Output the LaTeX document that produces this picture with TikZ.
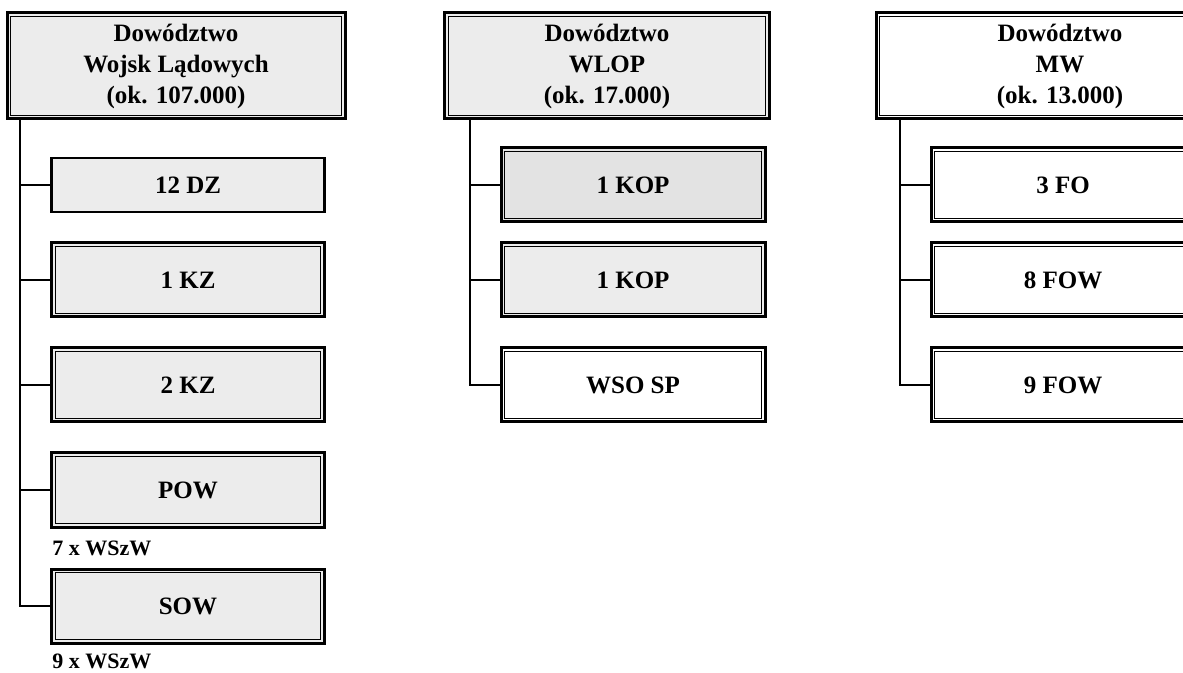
\documentclass[tikz,border=0pt]{standalone}
\usepackage{fontspec}
\setmainfont{Liberation Serif}
\usetikzlibrary{positioning}
\definecolor{boxgray}{gray}{0.925}
\definecolor{boxgrayd}{gray}{0.89}
\tikzset{
  unit/.style={draw, line width=1.5pt, minimum width=132pt, minimum height=37pt,
    font=\bfseries\fontsize{12.5}{15.5}\selectfont},
  head/.style={unit, align=center, minimum height=53pt},
  note/.style={font=\bfseries\fontsize{11}{13}\selectfont, inner sep=0pt},
  link/.style={line width=1pt}
}
\begin{document}
\begin{tikzpicture}[x=0.5pt,y=-0.5pt]
    \useasboundingbox (0,0) rectangle (1183,673);
    \clip (0,0) rectangle (1183,673);

    %左の列
    \node[head, fill=boxgray, minimum width=169pt](wl)at(176,66){Dowództwo\\Wojsk Lądowych\\(ok. 107.000)};
    \node[unit, fill=boxgray, line width=1.2pt, minimum width=136.5pt, minimum height=27pt](dz12)at(188,185){12 DZ};
    \node[unit, fill=boxgray, minimum width=136.5pt](kz1)at(188,280){1 KZ};
    \node[unit, fill=boxgray, minimum width=136.5pt](kz2)at(188,385){2 KZ};
    \node[unit, fill=boxgray, minimum width=136.5pt](pow)at(188,490){POW};
    \node[unit, fill=boxgray, minimum width=136.5pt](sow)at(188,606){SOW};
    \node[note, anchor=west](powx)at(52,548){7 x WSzW};
    \node[note, anchor=west](sowx)at(52,661){9 x WSzW};
    \coordinate (lt) at (20,0);%左の幹

    %中央の列
    \node[head, fill=boxgray, minimum width=162.5pt](wlop)at(607,66){Dowództwo\\WLOP\\(ok. 17.000)};
    \node[unit, fill=boxgrayd](kop1)at(633,185){1 KOP};
    \node[unit, fill=boxgray](kop2)at(633,280){1 KOP};
    \node[unit](wso)at(633,385){WSO SP};
    \coordinate (mt) at (470,0);%中央の幹

    %右の列
    \node[head, minimum width=184pt](mw)at(1060,66){Dowództwo\\MW\\(ok. 13.000)};
    \node[unit](fo3)at(1063,185){3 FO};
    \node[unit](fow8)at(1063,280){8 FOW};
    \node[unit](fow9)at(1063,385){9 FOW};
    \coordinate (rt) at (900,0);%右の幹

    %内側の細い枠
    \foreach\P in{wl,kz1,kz2,pow,sow,wlop,kop1,kop2,wso,mw,fo3,fow8,fow9}
      \draw[line width=0.5pt]([shift={(2.7pt,-2.7pt)}]\P.north west)rectangle([shift={(-2.7pt,2.7pt)}]\P.south east);

    %接続線
    \foreach\P in{dz12,kz1,kz2,pow,sow}\draw[link](lt |- wl.south)|-(\P.west);
    \foreach\P in{kop1,kop2,wso}\draw[link](mt |- wlop.south)|-(\P.west);
    \foreach\P in{fo3,fow8,fow9}\draw[link](rt |- mw.south)|-(\P.west);
\end{tikzpicture}
\end{document}
